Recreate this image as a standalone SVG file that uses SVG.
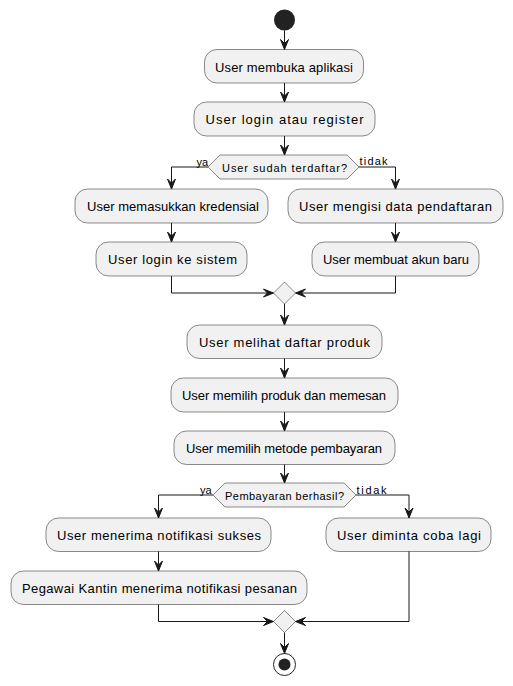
<svg xmlns="http://www.w3.org/2000/svg" width="513" height="686" viewBox="0 0 513 686">
<defs>
<style>
.act{fill:#F1F1F1;stroke:#181818;stroke-width:0.5}
.dia{fill:#F1F1F1;stroke:#181818;stroke-width:0.5}
.t{font-family:"Liberation Sans",Arial,sans-serif;font-size:13px;fill:#000;text-anchor:middle}
.dt{font-family:"Liberation Sans",Arial,sans-serif;font-size:11px;fill:#000;text-anchor:middle}
.lb{font-family:"Liberation Sans",Arial,sans-serif;font-size:11px;fill:#000}
.ln{fill:none;stroke:#181818;stroke-width:1}
.ah{fill:#181818;stroke:#181818;stroke-width:1}
</style>
</defs>
<rect width="513" height="686" fill="#FFFFFF"/>
<g id="start"><circle cx="284.5" cy="20" r="10.5" fill="#222222"/></g>
<g id="n1"><rect class="act" x="204.5" y="49.5" width="159" height="33.5" rx="12.5"/><text class="t" x="284" y="71.5" textLength="138" lengthAdjust="spacing">User membuka aplikasi</text></g>
<g id="n2"><rect class="act" x="194" y="102" width="181" height="34" rx="12.5"/><text class="t" x="284.5" y="124" textLength="158" lengthAdjust="spacing">User login atau register</text></g>
<g id="d1"><polygon class="dia" points="208,167 220,155 347,155 359,167 347,179 220,179"/><text class="dt" x="284.5" y="171.5" textLength="125" lengthAdjust="spacing">User sudah terdaftar?</text></g>
<g id="n3"><rect class="act" x="75" y="189" width="193" height="34" rx="12.5"/><text class="t" x="173" y="211" textLength="172" lengthAdjust="spacing">User memasukkan kredensial</text></g>
<g id="n4"><rect class="act" x="288" y="189" width="215" height="34" rx="12.5"/><text class="t" x="395.5" y="211" textLength="193" lengthAdjust="spacing">User mengisi data pendaftaran</text></g>
<g id="n5"><rect class="act" x="96" y="242" width="151" height="34" rx="12.5"/><text class="t" x="172.5" y="264" textLength="129" lengthAdjust="spacing">User login ke sistem</text></g>
<g id="n6"><rect class="act" x="312" y="242" width="167" height="34" rx="12.5"/><text class="t" x="396" y="264" textLength="146" lengthAdjust="spacing">User membuat akun baru</text></g>
<g id="m1"><polygon class="dia" points="284.5,282 295.5,293 284.5,304 273.5,293"/></g>
<g id="n7"><rect class="act" x="187" y="325" width="195" height="33.5" rx="12.5"/><text class="t" x="284.5" y="347" textLength="171" lengthAdjust="spacing">User melihat daftar produk</text></g>
<g id="n8"><rect class="act" x="171" y="378" width="227" height="34" rx="12.5"/><text class="t" x="284" y="400" textLength="204" lengthAdjust="spacing">User memilih produk dan memesan</text></g>
<g id="n9"><rect class="act" x="174" y="431" width="221" height="33.5" rx="12.5"/><text class="t" x="284" y="453" textLength="196" lengthAdjust="spacing">User memilih metode pembayaran</text></g>
<g id="d2"><polygon class="dia" points="213,495 225,483 344,483 356,495 344,507 225,507"/><text class="dt" x="284.5" y="499.5" textLength="119" lengthAdjust="spacing">Pembayaran berhasil?</text></g>
<g id="n10"><rect class="act" x="46" y="518" width="225" height="33.5" rx="12.5"/><text class="t" x="159" y="540" textLength="204" lengthAdjust="spacing">User menerima notifikasi sukses</text></g>
<g id="n11"><rect class="act" x="11" y="571" width="296" height="33.5" rx="12.5"/><text class="t" x="159.5" y="593" textLength="275" lengthAdjust="spacing">Pegawai Kantin menerima notifikasi pesanan</text></g>
<g id="n12"><rect class="act" x="326" y="518" width="165" height="33.5" rx="12.5"/><text class="t" x="409" y="540" textLength="144" lengthAdjust="spacing">User diminta coba lagi</text></g>
<g id="m2"><polygon class="dia" points="284.5,610.5 295.5,621.5 284.5,632.5 273.5,621.5"/></g>
<g id="end"><circle cx="284.5" cy="664.5" r="11" fill="none" stroke="#222222" stroke-width="1"/><circle cx="284.5" cy="664.5" r="6" fill="#222222"/></g>
<g id="connectors">
<path class="ln" d="M284.5,30.5 V49"/><polygon class="ah" points="280.5,39.5 284.5,49.5 288.5,39.5 284.5,43.5"/>
<path class="ln" d="M284.5,83 V101.5"/><polygon class="ah" points="280.5,92 284.5,102 288.5,92 284.5,96"/>
<path class="ln" d="M284.5,136 V154.5"/><polygon class="ah" points="280.5,145 284.5,155 288.5,145 284.5,149"/>
<path class="ln" d="M208,167 H171.5 V188.5"/><polygon class="ah" points="167.5,179 171.5,189 175.5,179 171.5,183"/>
<text class="lb" x="196.5" y="165.5">ya</text>
<path class="ln" d="M359,167 H395.5 V188.5"/><polygon class="ah" points="391.5,179 395.5,189 399.5,179 395.5,183"/>
<text class="lb" x="359.5" y="165" textLength="28" lengthAdjust="spacing">tidak</text>
<path class="ln" d="M171.5,223 V241.5"/><polygon class="ah" points="167.5,232 171.5,242 175.5,232 171.5,236"/>
<path class="ln" d="M395.5,223 V241.5"/><polygon class="ah" points="391.5,232 395.5,242 399.5,232 395.5,236"/>
<path class="ln" d="M171.5,276 V293 H273"/><polygon class="ah" points="263.5,289 273.5,293 263.5,297 267.5,293"/>
<path class="ln" d="M395.5,276 V293 H296"/><polygon class="ah" points="305.5,289 295.5,293 305.5,297 301.5,293"/>
<path class="ln" d="M284.5,304 V324.5"/><polygon class="ah" points="280.5,315 284.5,325 288.5,315 284.5,319"/>
<path class="ln" d="M284.5,358.5 V377.5"/><polygon class="ah" points="280.5,368 284.5,378 288.5,368 284.5,372"/>
<path class="ln" d="M284.5,412 V430.5"/><polygon class="ah" points="280.5,421 284.5,431 288.5,421 284.5,425"/>
<path class="ln" d="M284.5,464.5 V482.5"/><polygon class="ah" points="280.5,473 284.5,483 288.5,473 284.5,477"/>
<path class="ln" d="M213,495 H158.5 V517.5"/><polygon class="ah" points="154.5,508 158.5,518 162.5,508 158.5,512"/>
<text class="lb" x="200" y="494">ya</text>
<path class="ln" d="M356,495 H409 V517.5"/><polygon class="ah" points="405,508 409,518 413,508 409,512"/>
<text class="lb" x="356.5" y="493.5" textLength="30" lengthAdjust="spacing">tidak</text>
<path class="ln" d="M158.5,551.5 V570.5"/><polygon class="ah" points="154.5,561 158.5,571 162.5,561 158.5,565"/>
<path class="ln" d="M158.5,604.5 V621.5 H273"/><polygon class="ah" points="263.5,617.5 273.5,621.5 263.5,625.5 267.5,621.5"/>
<path class="ln" d="M409,551.5 V621.5 H296"/><polygon class="ah" points="305.5,617.5 295.5,621.5 305.5,625.5 301.5,621.5"/>
<path class="ln" d="M284.5,632.5 V653"/><polygon class="ah" points="280.5,643.5 284.5,653.5 288.5,643.5 284.5,647.5"/>
</g>
</svg>
